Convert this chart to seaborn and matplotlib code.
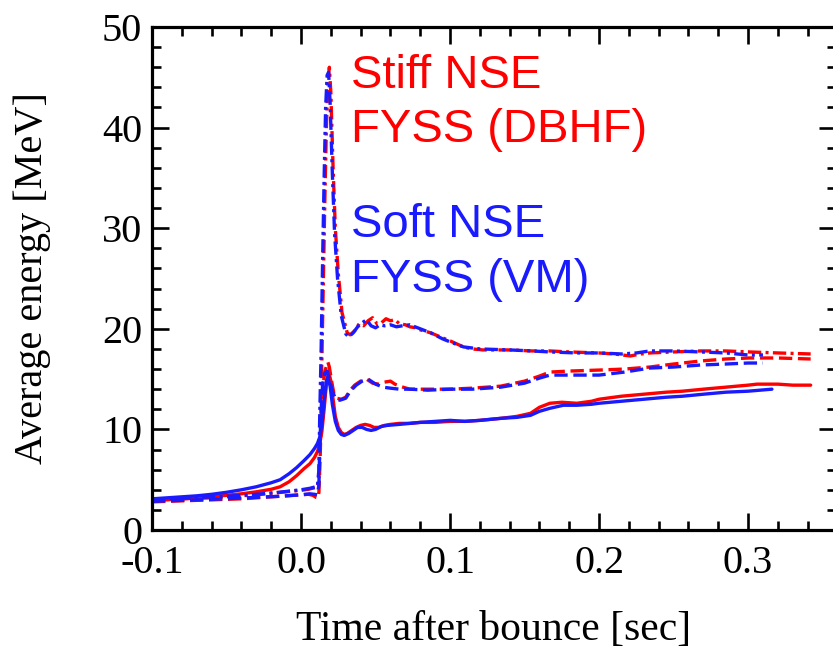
import numpy as np
import pandas as pd
import matplotlib
matplotlib.use("Agg")
import matplotlib.pyplot as plt
from matplotlib.ticker import MultipleLocator, FormatStrFormatter
import seaborn as sns

# ---- average neutrino energies [MeV] vs time after bounce [s] ----
# Stiff NSE / FYSS (DBHF)
t_stiff_nue = [-0.100, -0.090, -0.080, -0.070, -0.060, -0.050, -0.040, -0.030, -0.020, -0.014,
               -0.008, -0.003, 0.002, 0.006, 0.009, 0.011, 0.0125, 0.014, 0.0155, 0.017,
               0.0185, 0.020, 0.0215, 0.023, 0.025, 0.027, 0.029, 0.031, 0.034, 0.037,
               0.040, 0.043, 0.046, 0.049, 0.052, 0.056, 0.060, 0.066, 0.073, 0.080,
               0.090, 0.100, 0.110, 0.120, 0.134, 0.145, 0.154, 0.160, 0.167, 0.175,
               0.185, 0.195, 0.200, 0.215, 0.230, 0.245, 0.256, 0.270, 0.285, 0.300,
               0.306, 0.320, 0.330, 0.342]
e_stiff_nue = [2.9, 3.0, 3.1, 3.2, 3.3, 3.45, 3.6, 3.8, 4.05, 4.3,
               4.8, 5.4, 6.1, 6.6, 7.2, 7.8, 8.5, 9.8, 12.0, 14.5,
               15.8, 14.8, 13.0, 11.3, 10.2, 9.7, 9.5, 9.6, 9.9, 10.2,
               10.4, 10.5, 10.4, 10.2, 10.2, 10.4, 10.5, 10.6, 10.6, 10.7,
               10.7, 10.8, 10.8, 10.9, 11.1, 11.3, 11.6, 12.2, 12.6, 12.7,
               12.6, 12.8, 13.0, 13.3, 13.5, 13.7, 13.8, 14.0, 14.2, 14.4,
               14.5, 14.5, 14.4, 14.4]

t_stiff_nuebar = [-0.100, -0.090, -0.080, -0.070, -0.060, -0.050, -0.040, -0.030, -0.020, -0.010,
                  0.000, 0.005, 0.008, 0.010, 0.0115, 0.012, 0.0128, 0.0135, 0.0145, 0.016,
                  0.018, 0.019, 0.0205, 0.022, 0.024, 0.027, 0.030, 0.033, 0.036, 0.040,
                  0.044, 0.048, 0.052, 0.056, 0.060, 0.063, 0.066, 0.073, 0.085, 0.100,
                  0.115, 0.134, 0.150, 0.160, 0.167, 0.180, 0.200, 0.217, 0.234, 0.250,
                  0.268, 0.285, 0.301, 0.320, 0.342]
e_stiff_nuebar = [2.8, 2.85, 2.9, 2.95, 3.0, 3.05, 3.1, 3.2, 3.3, 3.4,
                  3.5, 3.55, 3.45, 3.25, 3.2, 3.8, 7.0, 11.0, 14.0, 15.8,
                  16.7, 16.2, 14.8, 13.6, 13.1, 13.0, 13.2, 13.9, 14.4, 14.8,
                  15.0, 14.6, 14.5, 14.7, 14.8, 14.5, 14.3, 14.0, 14.0, 14.0,
                  14.1, 14.3, 14.8, 15.3, 15.7, 15.8, 15.9, 16.0, 16.2, 16.5,
                  16.8, 17.0, 17.1, 17.1, 17.0]

t_stiff_nux = [-0.100, -0.090, -0.080, -0.070, -0.060, -0.050, -0.040, -0.030, -0.020, -0.010,
               0.000, 0.005, 0.009, 0.011, 0.012, 0.013, 0.014, 0.015, 0.016, 0.017,
               0.018, 0.019, 0.020, 0.0215, 0.023, 0.025, 0.0275, 0.031, 0.033, 0.036,
               0.039, 0.042, 0.045, 0.048, 0.051, 0.054, 0.057, 0.060, 0.063, 0.066,
               0.070, 0.073, 0.077, 0.080, 0.087, 0.095, 0.100, 0.109, 0.115, 0.122,
               0.140, 0.155, 0.167, 0.180, 0.200, 0.210, 0.221, 0.228, 0.234, 0.250,
               0.268, 0.285, 0.301, 0.320, 0.342]
e_stiff_nux = [3.0, 3.05, 3.1, 3.15, 3.2, 3.3, 3.4, 3.5, 3.65, 3.8,
               3.95, 4.05, 4.2, 4.3, 5.0, 10.0, 17.0, 25.0, 33.0, 40.0,
               44.5, 46.0, 43.5, 36.0, 30.0, 25.5, 21.6, 19.6, 19.4, 19.8,
               20.5, 20.3, 20.8, 21.1, 20.5, 20.6, 21.0, 20.8, 20.9, 20.5,
               20.4, 20.2, 20.1, 19.9, 19.6, 19.1, 18.8, 18.2, 18.0, 17.9,
               17.9, 17.8, 17.8, 17.7, 17.6, 17.5, 17.3, 17.5, 17.6, 17.7,
               17.8, 17.8, 17.7, 17.6, 17.5]

# Soft NSE / FYSS (VM)
t_soft_nue = [-0.100, -0.090, -0.080, -0.070, -0.060, -0.050, -0.040, -0.030, -0.020, -0.014,
              -0.008, -0.003, 0.002, 0.006, 0.009, 0.011, 0.0125, 0.014, 0.0155, 0.017,
              0.018, 0.0195, 0.021, 0.023, 0.025, 0.027, 0.029, 0.032, 0.035, 0.038,
              0.041, 0.044, 0.047, 0.050, 0.054, 0.058, 0.066, 0.073, 0.080, 0.090,
              0.100, 0.110, 0.120, 0.134, 0.145, 0.154, 0.160, 0.167, 0.176, 0.185,
              0.195, 0.200, 0.215, 0.230, 0.245, 0.256, 0.270, 0.285, 0.300, 0.316]
e_soft_nue = [3.1, 3.2, 3.3, 3.4, 3.55, 3.75, 4.0, 4.3, 4.7, 5.0,
              5.6, 6.2, 6.9, 7.5, 8.1, 8.6, 9.2, 10.5, 12.8, 14.8,
              15.2, 14.3, 12.5, 10.8, 9.9, 9.5, 9.4, 9.6, 9.9, 10.2,
              10.2, 10.0, 9.9, 10.0, 10.3, 10.4, 10.5, 10.6, 10.7, 10.8,
              10.9, 10.8, 10.9, 11.1, 11.2, 11.4, 11.8, 12.1, 12.4, 12.4,
              12.5, 12.6, 12.8, 13.0, 13.2, 13.3, 13.5, 13.7, 13.8, 14.0]

t_soft_nuebar = [-0.100, -0.080, -0.060, -0.045, -0.030, -0.015, 0.000, 0.006, 0.009, 0.011,
                 0.012, 0.0125, 0.0135, 0.0145, 0.016, 0.0175, 0.019, 0.021, 0.023, 0.026,
                 0.030, 0.033, 0.037, 0.041, 0.045, 0.050, 0.055, 0.060, 0.066, 0.073,
                 0.085, 0.100, 0.115, 0.134, 0.150, 0.160, 0.167, 0.180, 0.200, 0.217,
                 0.234, 0.250, 0.268, 0.285, 0.300, 0.310]
e_soft_nuebar = [2.85, 2.95, 3.05, 3.15, 3.25, 3.35, 3.5, 3.6, 3.55, 3.5,
                 4.5, 8.0, 12.0, 14.5, 15.6, 15.8, 15.0, 13.8, 13.1, 12.9,
                 13.1, 13.8, 14.4, 14.8, 15.0, 14.5, 14.2, 14.1, 14.0, 14.0,
                 13.9, 14.0, 14.0, 14.2, 14.6, 15.1, 15.4, 15.4, 15.4, 15.7,
                 16.1, 16.2, 16.4, 16.5, 16.6, 16.6]

t_soft_nux = [-0.100, -0.080, -0.060, -0.045, -0.030, -0.015, 0.000, 0.006, 0.011, 0.012,
              0.0125, 0.0135, 0.0145, 0.0155, 0.0165, 0.0175, 0.0185, 0.0195, 0.021, 0.0225,
              0.0245, 0.027, 0.030, 0.032, 0.035, 0.038, 0.041, 0.044, 0.047, 0.050,
              0.053, 0.056, 0.060, 0.064, 0.068, 0.073, 0.080, 0.087, 0.095, 0.100,
              0.109, 0.120, 0.140, 0.155, 0.167, 0.185, 0.200, 0.215, 0.225, 0.234,
              0.250, 0.268, 0.285, 0.300, 0.310]
e_soft_nux = [3.05, 3.15, 3.3, 3.4, 3.55, 3.75, 4.0, 4.15, 4.35, 6.0,
              11.0, 18.0, 27.0, 35.0, 42.0, 45.2, 45.5, 42.5, 35.5, 29.5,
              25.0, 21.3, 19.5, 19.2, 19.6, 20.2, 20.6, 20.9, 20.3, 20.1,
              20.4, 20.3, 20.4, 20.2, 20.3, 20.4, 20.0, 19.6, 19.0, 18.7,
              18.2, 18.0, 17.9, 17.8, 17.7, 17.6, 17.6, 17.5, 17.6, 17.8,
              17.8, 17.7, 17.6, 17.4, 17.4]

x_ticks = [-0.1, 0.0, 0.1, 0.2, 0.3]
y_ticks = [0, 10, 20, 30, 40, 50]

RED = "#ff0000"
BLUE = "#1a1aff"
SOLID = "-"
DASHED = (0, (4.0, 1.7))
DASHDOT = (0, (4.0, 1.3, 0.9, 1.3))

sns.set_style("ticks")
plt.rcParams["font.family"] = ["Liberation Serif", "DejaVu Serif"]
plt.rcParams["text.color"] = "black"
plt.rcParams["axes.labelcolor"] = "black"
plt.rcParams["xtick.color"] = "black"
plt.rcParams["ytick.color"] = "black"

fig = plt.figure(figsize=(8.33, 6.55), dpi=100)
ax = fig.add_axes([0.1825, 0.1908, 0.8211, 0.768])

series = [
    (t_stiff_nue, e_stiff_nue, RED, SOLID),
    (t_stiff_nuebar, e_stiff_nuebar, RED, DASHED),
    (t_stiff_nux, e_stiff_nux, RED, DASHDOT),
    (t_soft_nue, e_soft_nue, BLUE, SOLID),
    (t_soft_nuebar, e_soft_nuebar, BLUE, DASHED),
    (t_soft_nux, e_soft_nux, BLUE, DASHDOT),
]
for t, e, col, ls in series:
    df = pd.DataFrame({"t": t, "e": e})
    sns.lineplot(data=df, x="t", y="e", ax=ax, color=col, linestyle=ls,
                 linewidth=2.4, estimator=None, sort=False, legend=False)

ax.set_xlim(-0.1, 0.359)
ax.set_ylim(0, 50)
ax.set_xticks(x_ticks)
ax.set_yticks(y_ticks)
ax.xaxis.set_major_formatter(FormatStrFormatter("%.1f"))
ax.yaxis.set_major_formatter(FormatStrFormatter("%d"))
ax.xaxis.set_minor_locator(MultipleLocator(0.02))
ax.yaxis.set_minor_locator(MultipleLocator(2))
ax.tick_params(which="both", direction="in", top=True, right=True,
               width=1.9, labelsize=29, color="black", labelcolor="black")
ax.tick_params(which="major", length=12)
ax.tick_params(which="minor", length=6.5)
ax.tick_params(axis="x", which="major", pad=11)
ax.tick_params(axis="y", which="major", pad=7)
for lbl in ax.get_yticklabels():
    lbl.set_verticalalignment("center_baseline")
for s in ax.spines.values():
    s.set_linewidth(2.3)
    s.set_color("black")

ax.set_xlabel("Time after bounce [sec]", fontsize=30, color="black")
ax.set_ylabel("Average energy [MeV]", fontsize=29, color="black")
ax.xaxis.set_label_coords(0.5, -0.16)
ax.yaxis.set_label_coords(-0.148, 0.5)

sans = ["Liberation Sans", "DejaVu Sans"]
ax.text(0.0335, 43.9, "Stiff NSE", color=RED, fontsize=34, family=sans)
ax.text(0.0335, 38.6, "FYSS (DBHF)", color=RED, fontsize=34, family=sans)
ax.text(0.0335, 29.1, "Soft NSE", color=BLUE, fontsize=34, family=sans)
ax.text(0.0335, 23.7, "FYSS (VM)", color=BLUE, fontsize=34, family=sans)

fig.savefig("out.png", dpi=100)
